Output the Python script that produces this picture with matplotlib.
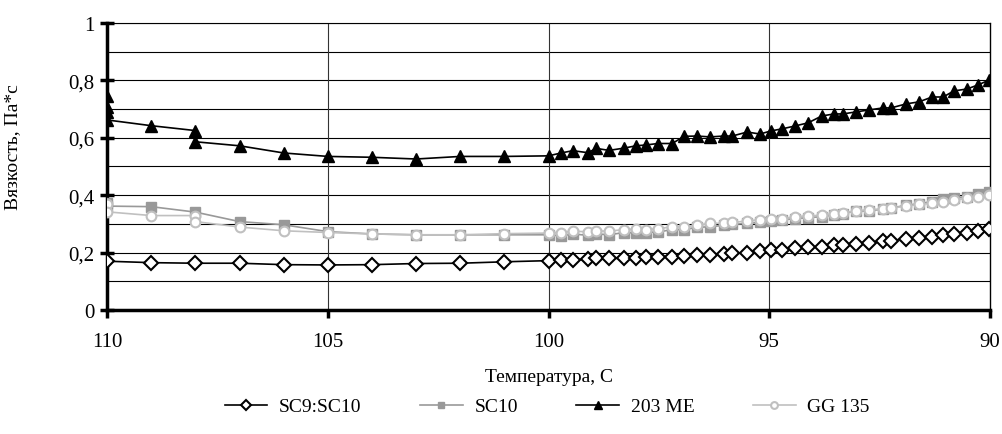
import matplotlib.pyplot as plt
import numpy as np

plt.rcParams['font.family'] = ['Liberation Serif', 'DejaVu Serif']

# temperatures: 1-degree steps 110..100 (several readings at 110 / 108), dense readings 100..90
t_sparse = [110, 109, 108, 107, 106, 105, 104, 103, 102, 101]
t_dense = [100.0, 99.72, 99.45, 99.11, 98.92, 98.63, 98.29, 98.02, 97.79, 97.52,
           97.20, 96.93, 96.64, 96.34, 96.03, 95.84, 95.50, 95.21, 94.96, 94.71,
           94.42, 94.12, 93.81, 93.53, 93.33, 93.04, 92.74, 92.42, 92.24, 91.90,
           91.61, 91.31, 91.06, 90.82, 90.52, 90.27, 90.02]

sc9_t = [110] + t_sparse[1:] + t_dense
sc9_v = [0.17, 0.165, 0.163, 0.163, 0.158, 0.157, 0.158, 0.162, 0.163, 0.168,
         0.172, 0.175, 0.175, 0.176, 0.18, 0.18, 0.18, 0.182, 0.183, 0.186,
         0.186, 0.188, 0.191, 0.193, 0.196, 0.198, 0.2, 0.205, 0.21, 0.21,
         0.215, 0.218, 0.22, 0.225, 0.228, 0.23, 0.235, 0.24, 0.242, 0.248,
         0.25, 0.256, 0.262, 0.265, 0.27, 0.275, 0.282]

sc10_t = [110, 110, 109, 108, 107, 106, 105, 104, 103, 102, 101] + t_dense
sc10_v = [0.373, 0.362, 0.36, 0.341, 0.308, 0.297, 0.273, 0.265, 0.262, 0.262, 0.262,
          0.262, 0.258, 0.265, 0.26, 0.265, 0.262, 0.27, 0.268, 0.27, 0.272,
          0.28, 0.28, 0.288, 0.29, 0.295, 0.298, 0.302, 0.305, 0.31, 0.315,
          0.318, 0.322, 0.325, 0.332, 0.336, 0.345, 0.345, 0.352, 0.355, 0.365,
          0.37, 0.378, 0.385, 0.39, 0.395, 0.405, 0.41]

me_t = [110, 110, 110, 110, 109, 108, 108, 107, 106, 105, 104, 103, 102, 101] + t_dense
me_v = [0.746, 0.707, 0.69, 0.662, 0.642, 0.625, 0.586, 0.572, 0.547, 0.535, 0.532, 0.526, 0.535, 0.535,
        0.537, 0.547, 0.555, 0.548, 0.563, 0.556, 0.564, 0.572, 0.575, 0.58,
        0.58, 0.605, 0.606, 0.603, 0.606, 0.606, 0.62, 0.613, 0.624, 0.631,
        0.641, 0.652, 0.676, 0.683, 0.683, 0.69, 0.697, 0.704, 0.704, 0.718,
        0.725, 0.742, 0.742, 0.763, 0.77, 0.784, 0.801]

gg_t = [110, 110, 109, 108, 108, 107, 106, 105, 104, 103, 102, 101] + t_dense
gg_v = [0.369, 0.342, 0.329, 0.329, 0.308, 0.289, 0.276, 0.27, 0.265, 0.262, 0.262, 0.266,
        0.268, 0.27, 0.275, 0.272, 0.275, 0.275, 0.28, 0.282, 0.28, 0.283,
        0.29, 0.29, 0.295, 0.302, 0.302, 0.305, 0.31, 0.315, 0.317, 0.318,
        0.325, 0.328, 0.33, 0.335, 0.338, 0.345, 0.35, 0.352, 0.355, 0.362,
        0.368, 0.372, 0.375, 0.382, 0.39, 0.395, 0.402]

fig = plt.figure(figsize=(10.02, 4.35), dpi=100)
ax = fig.add_axes([0.107, 0.285, 0.881, 0.66])

ax.plot(sc9_t, sc9_v, color='black', lw=1.2, marker='D', ms=7, mfc='white', mec='black', mew=1.5,
        label='SC9:SC10', zorder=5)
ax.plot(sc10_t, sc10_v, color='#999999', lw=1.2, marker='s', ms=7, mfc='#999999', mec='#999999',
        label='SC10', zorder=4)
ax.plot(me_t, me_v, color='black', lw=1.2, marker='^', ms=9, mfc='black', mec='black',
        label='203 ME', zorder=5)
ax.plot(gg_t, gg_v, color='#c0c0c0', lw=1.2, marker='o', ms=7, mfc='white', mec='#c0c0c0', mew=1.5,
        label='GG 135', zorder=4)

ax.set_xlim(110, 90)
ax.set_ylim(0, 1)
ax.set_xticks([110, 105, 100, 95, 90])
ax.set_yticks([0, 0.2, 0.4, 0.6, 0.8, 1])
ax.set_yticklabels(['0', '0,2', '0,4', '0,6', '0,8', '1'])

for yv in np.arange(0.1, 1.01, 0.1):
    ax.axhline(yv, color='black', lw=0.8, zorder=1)
for xv in [105, 100, 95]:
    ax.axvline(xv, color='#333333', lw=0.8, zorder=1)

ax.spines['left'].set_linewidth(2.5)
ax.spines['bottom'].set_linewidth(2.5)
ax.spines['right'].set_linewidth(1.0)
ax.spines['top'].set_linewidth(0.8)
ax.tick_params(axis='y', which='major', direction='inout', length=10, width=2.5, labelsize=15, pad=4)
ax.tick_params(axis='x', direction='out', length=6, width=2.5, labelsize=15, pad=10)

ax.set_xlabel('Температура, С', fontsize=14, labelpad=12)
ax.set_ylabel('Вязкость, Па*с', fontsize=14)
ax.yaxis.set_label_coords(-0.098, 0.57)

fig.legend(loc='center', bbox_to_anchor=(0.546, 0.063), ncol=4, frameon=False, fontsize=14,
           handlelength=2.2, columnspacing=3.0, handletextpad=0.6, markerscale=0.7)

plt.savefig('out.png', dpi=100)
